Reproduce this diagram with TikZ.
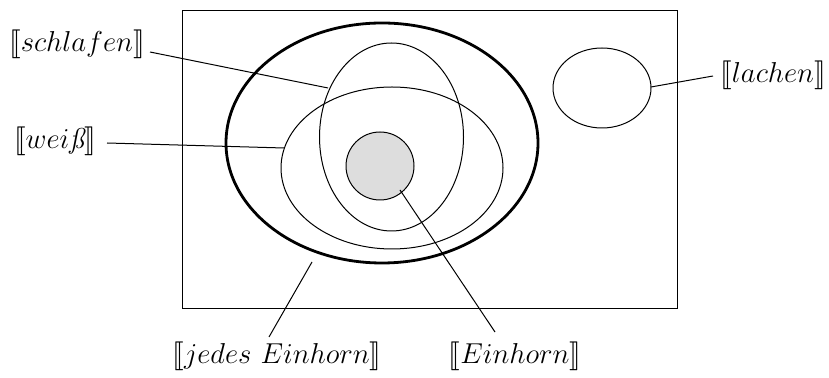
\documentclass[tikz,border=0pt]{standalone}
\usepackage{stmaryrd}
\begin{document}
\begin{tikzpicture}[x=0.5pt,y=-0.5pt,
  thin line/.style={line width=0.5pt},
  lbl/.style={font=\Large, inner sep=0pt}]
\useasboundingbox (0,0) rectangle (829,378);
\draw[thin line] (182,10.7) rectangle (677,309);
\draw[line width=1.4pt] (382,143) ellipse [x radius=156, y radius=120];
\draw[thin line] (391.5,137) ellipse [x radius=72, y radius=94];
\draw[thin line] (392,168) ellipse [x radius=111, y radius=81];
\draw[thin line, fill={rgb,255:red,221;green,221;blue,221}] (380,166) circle [radius=34];
\draw[thin line] (602,88) ellipse [x radius=49, y radius=40];
\node[lbl] (schlafen) at (77,44) {$\llbracket schlafen\rrbracket$};
\node[lbl] (weiss) at (55,141) {$\llbracket wei\mbox{\itshape\ss}\rrbracket$};
\node[lbl] (lachen) at (773,75) {$\llbracket lachen\rrbracket$};
\node[lbl] (jedes) at (277,356) {$\llbracket jedes\ Einhorn\rrbracket$};
\node[lbl] (einhorn) at (515,356) {$\llbracket Einhorn\rrbracket$};
\coordinate (pS) at (328,88);
\coordinate (pW) at (284,148);
\coordinate (pL) at (651,87);
\coordinate (pJ) at (312,262);
\coordinate (pE) at (400,190);
\draw[thin line] (150,52) -- (pS);
\draw[thin line] (107,143) -- (pW);
\draw[thin line] (713,76) -- (pL);
\draw[thin line] (269,337) -- (pJ);
\draw[thin line] (495,332) -- (pE);
\end{tikzpicture}
\end{document}
